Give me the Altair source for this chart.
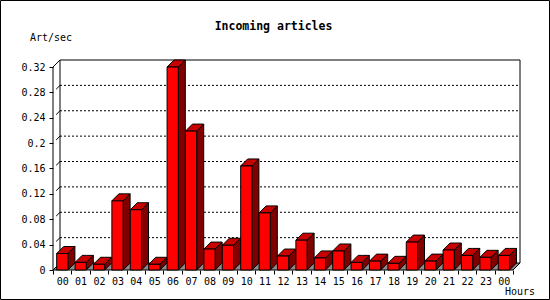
import altair as alt
import pandas as pd

# ---- data ----
hours = ["00", "01", "02", "03", "04", "05", "06", "07", "08", "09", "10", "11",
         "12", "13", "14", "15", "16", "17", "18", "19", "20", "21", "22", "23", "00"]
rates = [0.026, 0.012, 0.009, 0.109, 0.095, 0.009, 0.320, 0.219, 0.033, 0.039,
         0.164, 0.090, 0.022, 0.047, 0.019, 0.030, 0.012, 0.014, 0.0105, 0.044,
         0.014, 0.0315, 0.023, 0.020, 0.023]
y_ticks = [0, 0.04, 0.08, 0.12, 0.16, 0.20, 0.24, 0.28, 0.32]
title_text = "Incoming articles"
y_title = "Art/sec"
x_title = "Hours"

# ---- geometry (style) ----
N = len(rates)
YMAX = y_ticks[-1]
PX_X = 18.4            # pixels per category
W = 467
H = 210
DX = 7 / PX_X          # 3D depth in x units
DY = YMAX * 7 / 203    # 3D depth in y units
BAR_L = 0.2
BAR_W = 0.61
FONT = "DejaVu Sans Mono"

xs = alt.Scale(domain=[0, N + DX], nice=False, zero=False)
ys = alt.Scale(domain=[0, YMAX + DY], nice=False, zero=False)

label_arr = "[" + ",".join("'%s'" % h for h in hours) + "]"
axis_common = dict(labelFont=FONT, labelFontSize=10, labelColor="black",
                   tickColor="black", tickSize=4, domain=False, grid=False,
                   title=None, labelOverlap=False, labelBound=False, labelFlush=False)
XA = alt.Axis(values=list(range(N + 1)),
              labelExpr=label_arr + "[datum.value] || ''",
              labelOffset=PX_X / 2, labelAlign="center",
              labelBaseline="top", labelPadding=2, **axis_common)
YA = alt.Axis(values=y_ticks, format=".2~f", labelPadding=4,
              labelBaseline="middle", **axis_common)


def X(f):
    return alt.X(f, scale=xs, axis=XA)


def Y(f):
    return alt.Y(f, scale=ys, axis=YA)


# faces of bars
front_rows, side_rows, top_rows = [], [], []
for i, v in enumerate(rates):
    xl = i + BAR_L
    xr = xl + BAR_W
    front_rows.append({"i": i, "x": xl, "x2": xr, "y": 0, "y2": v})
    side_rows += [
        {"i": i, "x": xr, "y": v, "y2": 0},
        {"i": i, "x": xr + DX, "y": v + DY, "y2": DY},
    ]
    top_rows += [
        {"i": i, "x": xl, "y": v, "y2": v},
        {"i": i, "x": xl + DX, "y": v + DY, "y2": v},
        {"i": i, "x": xr, "y": v + DY, "y2": v},
        {"i": i, "x": xr + DX, "y": v + DY, "y2": v + DY},
    ]
front = pd.DataFrame(front_rows)
side = pd.DataFrame(side_rows)
top = pd.DataFrame(top_rows)

floor = pd.DataFrame([
    {"x": 0, "y": 0, "y2": 0},
    {"x": DX, "y": DY, "y2": 0},
    {"x": N, "y": DY, "y2": 0},
    {"x": N + DX, "y": DY, "y2": DY},
])

walls = pd.DataFrame([
    {"x": DX, "x2": N + DX, "y": YMAX + DY, "y2": YMAX + DY},   # top of back wall
    {"x": DX, "x2": DX, "y": DY, "y2": YMAX + DY},              # left back edge
    {"x": N + DX, "x2": N + DX, "y": DY, "y2": YMAX + DY},      # right back edge
    {"x": 0, "x2": DX, "y": YMAX, "y2": YMAX + DY},             # top-left diagonal
    {"x": 0, "x2": 0, "y": 0, "y2": YMAX},                      # front axis
])
grid = pd.DataFrame({"t": y_ticks[1:-1]})
grid["y"] = grid["t"] + DY
grid["x"] = DX
grid["x2"] = N + DX
slashes = pd.DataFrame({"t": y_ticks[1:-1]})
slashes["x"] = DX * 0.45
slashes["x2"] = DX
slashes["y"] = slashes["t"] + DY * 0.45
slashes["y2"] = slashes["t"] + DY

grid_l = alt.Chart(grid).mark_rule(color="black", strokeDash=[2, 2], strokeWidth=1).encode(
    x=X("x:Q"), x2="x2:Q", y=Y("y:Q"))

slash_l = alt.Chart(slashes).mark_rule(color="black", strokeWidth=1).encode(
    x=X("x:Q"), x2="x2:Q", y=Y("y:Q"), y2="y2:Q")

wall_l = alt.Chart(walls).mark_rule(color="black", strokeWidth=1).encode(
    x=X("x:Q"), x2="x2:Q", y=Y("y:Q"), y2="y2:Q")

floor_l = alt.Chart(floor).mark_area(fill="#8c8c8c", stroke="black", strokeWidth=1,
                                      orient="vertical", opacity=1).encode(
    x=X("x:Q"), y=Y("y:Q"), y2="y2:Q")

side_l = alt.Chart(side).mark_area(fill="#800000", stroke="black", strokeWidth=1,
                                    orient="vertical", opacity=1).encode(
    x=X("x:Q"), y=Y("y:Q"), y2="y2:Q", detail="i:N")

top_l = alt.Chart(top).mark_area(fill="#c80000", stroke="black", strokeWidth=1,
                                  orient="vertical", opacity=1).encode(
    x=X("x:Q"), y=Y("y:Q"), y2="y2:Q", detail="i:N")

front_l = alt.Chart(front).mark_rect(fill="#ff0000", stroke="black", strokeWidth=1).encode(
    x=X("x:Q"), x2="x2:Q", y=Y("y:Q"), y2="y2:Q")

txt = pd.DataFrame({"a": [0]})
title_l = alt.Chart(txt).mark_text(text=title_text, font=FONT, fontSize=11.5,
                                    fontWeight="bold", align="center",
                                    baseline="alphabetic", color="black").encode(
    x=alt.value(220.5), y=alt.value(-30))
ytitle_l = alt.Chart(txt).mark_text(text=y_title, font=FONT, fontSize=10,
                                     align="left", baseline="alphabetic",
                                     color="black").encode(
    x=alt.value(-23), y=alt.value(-19))
xtitle_l = alt.Chart(txt).mark_text(text=x_title, font=FONT, fontSize=10,
                                     align="left", baseline="alphabetic",
                                     color="black").encode(
    x=alt.value(452), y=alt.value(235))
border_l = alt.Chart(txt).mark_rect(fill=None, stroke="black", strokeWidth=1).encode(
    x=alt.value(-52.5), x2=alt.value(496.5), y=alt.value(-59.5), y2=alt.value(239.5))

chart = alt.layer(
    grid_l, slash_l, wall_l, floor_l, side_l, top_l, front_l,
    title_l, ytitle_l, xtitle_l, border_l
).properties(
    width=W, height=H,
    autosize=alt.AutoSizeParams(type="none"),
    padding={"left": 53, "top": 60, "right": 30, "bottom": 30},
    background="white",
).configure_view(stroke=None)

chart.save("out.html", embed_options={"renderer": "svg", "actions": False})
